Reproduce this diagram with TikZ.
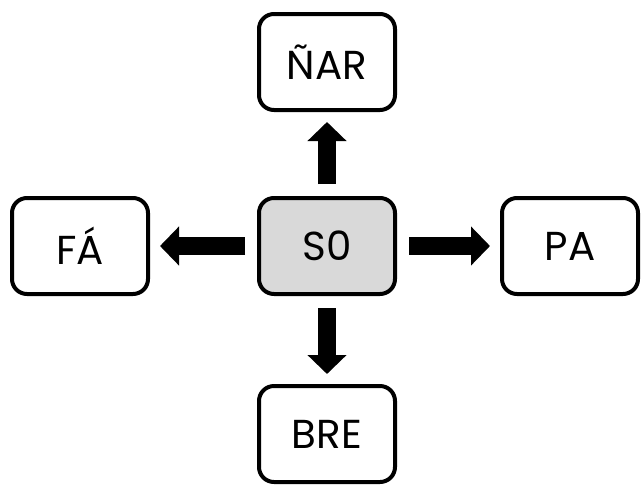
\documentclass[tikz,border=0pt]{standalone}
\usepackage{fontspec}
\setmainfont{Poppins}
\usetikzlibrary{arrows.meta}
\definecolor{boxgray}{RGB}{217,217,217}
\tikzset{
  card/.style={draw, line width=0.08cm, rounded corners=0.3cm, minimum width=2.72cm, minimum height=1.92cm, font=\fontsize{23}{26}\selectfont},
  bigarrow/.style={line width=0.36cm, -{Triangle[length=0.38cm,width=0.76cm]}, shorten <=0.24cm, shorten >=0.2cm}
}
\begin{document}
\begin{tikzpicture}
\useasboundingbox (0,0) rectangle (12.88,9.8);

\node[card, fill=boxgray] (so) at (6.54,4.88) {S0};
\node[card] (nar) at (6.54,8.56) {ÑAR};
\node[card] (bre) at (6.54,1.12) {BRE};
\node[card] (fa) at (1.6,4.88) {FÁ};
\node[card] (pa) at (11.4,4.88) {PA};

\draw[bigarrow] (so) -- (nar);
\draw[bigarrow] (so) -- (bre);
\draw[bigarrow] (so) -- (fa);
\draw[bigarrow] (so) -- (pa);
\end{tikzpicture}
\end{document}
